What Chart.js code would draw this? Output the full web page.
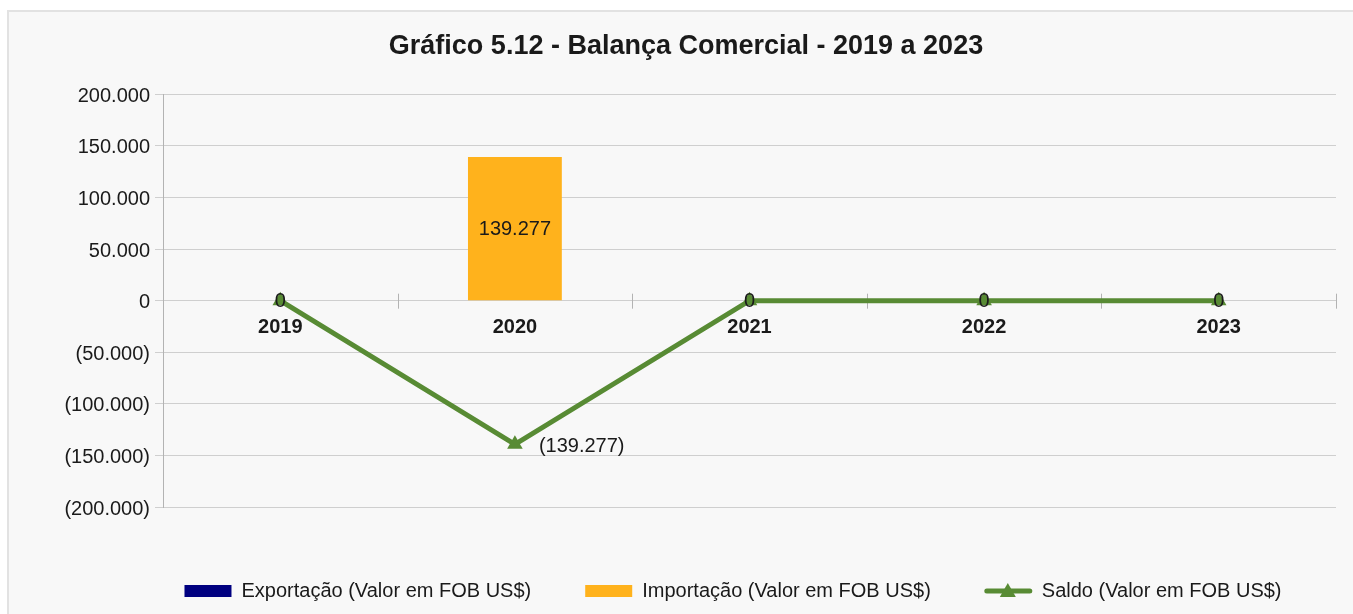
<!DOCTYPE html>
<html>
<head>
<meta charset="utf-8">
<script src="https://cdn.jsdelivr.net/npm/chart.js@4.4.1/dist/chart.umd.min.js"></script>
<style>
  html, body { margin: 0; padding: 0; background: #fff; }
  #panel { position: absolute; left: 7px; top: 10px; width: 1356px; height: 614px;
           background: #f8f8f8; border-left: 2px solid #e2e2e2; border-top: 2px solid #e2e2e2; }
  #chart { position: absolute; left: 0; top: 0; }
</style>
</head>
<body>
<div id="panel"></div>
<canvas id="chart" width="1353" height="614"></canvas>
<script>
// Chart data
const categories = ['2019', '2020', '2021', '2022', '2023'];
const exportacao = [0, 0, 0, 0, 0];
const importacao = [0, 139277, 0, 0, 0];
const saldo = [0, -139277, 0, 0, 0];
const yTicks = [-200000, -150000, -100000, -50000, 0, 50000, 100000, 150000, 200000];

const FONT = "'Liberation Sans', Arial, sans-serif";
const GREEN = '#588b34';
const SALDO_INDEX = 2;

function fmtNumber(v) {
  const s = Math.abs(Math.round(v)).toString().replace(/\B(?=(\d{3})+(?!\d))/g, '.');
  return v < 0 ? '(' + s + ')' : s;
}

// Value labels, category tick marks and the line legend symbol
const extrasPlugin = {
  id: 'extras',
  afterLayout(chart) {
    // shift title and legend to match the original placement
    chart.titleBlock.left += 18;
    chart.titleBlock.right += 18;
    chart.legend.left += 65;
    chart.legend.right += 65;
  },
  beforeDatasetsDraw(chart) {
    const ctx = chart.ctx;
    const x = chart.scales.x;
    const y0 = chart.scales.y.getPixelForValue(0);
    const step = (x.right - x.left) / categories.length;
    ctx.save();
    ctx.strokeStyle = '#b3b3b3';
    ctx.lineWidth = 1;
    for (let i = 1; i <= categories.length; i++) {
      const px = Math.round(x.left + i * step) + 0.5;
      ctx.beginPath();
      ctx.moveTo(px, y0 - 7);
      ctx.lineTo(px, y0 + 8);
      ctx.stroke();
    }
    ctx.restore();
  },
  afterDatasetsDraw(chart) {
    const ctx = chart.ctx;
    ctx.save();
    ctx.font = '20px ' + FONT;
    ctx.fillStyle = '#1a1a1a';
    ctx.textBaseline = 'middle';

    const barMeta = chart.getDatasetMeta(1);
    barMeta.data.forEach((bar, i) => {
      if (!importacao[i]) return;
      ctx.textAlign = 'center';
      ctx.fillText(fmtNumber(importacao[i]), bar.x, (bar.y + bar.base) / 2 + 1);
    });

    const lineMeta = chart.getDatasetMeta(SALDO_INDEX);
    lineMeta.data.forEach((pt, i) => {
      if (saldo[i] < 0) {
        ctx.textAlign = 'left';
        ctx.fillText(fmtNumber(saldo[i]), pt.x + 24, pt.y + 2);
      } else {
        ctx.textAlign = 'center';
        ctx.fillText(fmtNumber(saldo[i]), pt.x, pt.y + 1);
      }
    });
    ctx.restore();
  },
  afterDraw(chart) {
    const legend = chart.legend;
    const idx = legend.legendItems.findIndex(it => it.datasetIndex === SALDO_INDEX);
    const hb = legend.legendHitBoxes[idx];
    if (!hb) return;
    const ctx = chart.ctx;
    const cy = hb.top + hb.height / 2;
    const cx = hb.left + 23;
    ctx.save();
    ctx.strokeStyle = GREEN;
    ctx.fillStyle = GREEN;
    ctx.lineWidth = 5;
    ctx.lineCap = 'round';
    ctx.beginPath();
    ctx.moveTo(hb.left + 2, cy);
    ctx.lineTo(hb.left + 45, cy);
    ctx.stroke();
    ctx.beginPath();
    ctx.moveTo(cx, cy - 8);
    ctx.lineTo(cx + 8, cy + 6);
    ctx.lineTo(cx - 8, cy + 6);
    ctx.closePath();
    ctx.fill();
    ctx.restore();
  }
};

new Chart(document.getElementById('chart'), {
  type: 'bar',
  data: {
    labels: categories,
    datasets: [
      {
        label: 'Exportação (Valor em FOB US$)',
        data: exportacao,
        backgroundColor: '#000080',
        borderWidth: 0,
        order: 2
      },
      {
        label: 'Importação (Valor em FOB US$)',
        data: importacao,
        backgroundColor: '#ffb21c',
        borderWidth: 0,
        order: 2
      },
      {
        type: 'line',
        label: 'Saldo (Valor em FOB US$)',
        data: saldo,
        borderColor: GREEN,
        backgroundColor: GREEN,
        borderWidth: 5,
        pointStyle: 'triangle',
        pointRadius: 9,
        pointBorderWidth: 0,
        pointBackgroundColor: GREEN,
        tension: 0,
        order: 1
      }
    ]
  },
  options: {
    responsive: false,
    animation: false,
    devicePixelRatio: 1,
    grouped: false,
    categoryPercentage: 1,
    barPercentage: 0.4,
    layout: { padding: { left: 0, right: 17, top: 0, bottom: 3 } },
    scales: {
      x: {
        position: { y: 0 },
        grid: { display: true, drawOnChartArea: false, drawTicks: false },
        border: { display: false },
        ticks: {
          padding: 15,
          color: '#1a1a1a',
          font: { family: FONT, size: 20, weight: 'bold' }
        }
      },
      x2: {
        type: 'category',
        position: 'bottom',
        display: true,
        grid: { display: false },
        border: { display: false },
        ticks: { display: false },
        afterFit(scale) { scale.height = 20; }
      },
      y: {
        min: -200000,
        max: 200000,
        afterBuildTicks(scale) { scale.ticks = yTicks.map(v => ({ value: v })); },
        afterFit(scale) { scale.width = 163; },
        grid: { color: '#cfcfcf', tickLength: 8, drawTicks: true },
        border: { display: true, color: '#b3b3b3' },
        ticks: {
          padding: 5,
          labelOffset: 2,
          color: '#1a1a1a',
          font: { family: FONT, size: 20 },
          callback: v => fmtNumber(v)
        }
      }
    },
    plugins: {
      title: {
        display: true,
        text: 'Gráfico 5.12 - Balança Comercial - 2019 a 2023',
        color: '#1a1a1a',
        font: { family: FONT, size: 27, weight: 'bold' },
        padding: { top: 30, bottom: 32 }
      },
      legend: {
        position: 'bottom',
        labels: {
          boxWidth: 47,
          boxHeight: 12,
          padding: 54,
          color: '#1a1a1a',
          font: { family: FONT, size: 20 },
          sort: (a, b) => a.datasetIndex - b.datasetIndex,
          generateLabels(chart) {
            const items = Chart.defaults.plugins.legend.labels.generateLabels(chart);
            items.forEach(it => {
              it.lineWidth = 0;
              it.strokeStyle = 'rgba(0,0,0,0)';
              if (it.datasetIndex === SALDO_INDEX) it.fillStyle = 'rgba(0,0,0,0)';
            });
            return items;
          }
        },
        maxHeight: 84
      },
      tooltip: { enabled: false }
    }
  },
  plugins: [extrasPlugin]
});
</script>
</body>
</html>
